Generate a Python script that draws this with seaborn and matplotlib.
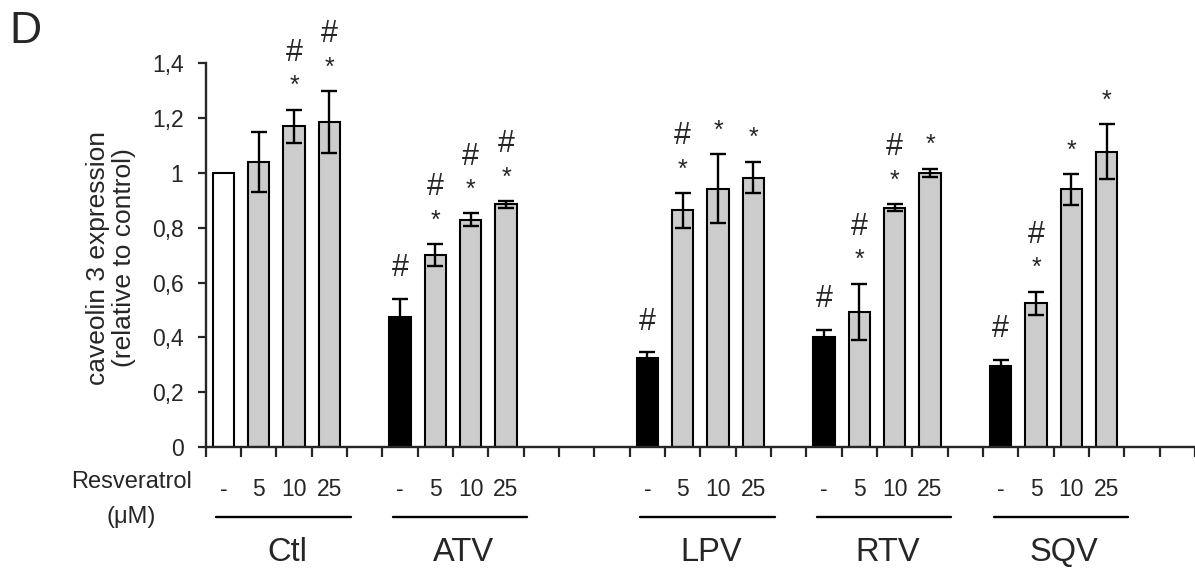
import numpy as np
import pandas as pd
import matplotlib
matplotlib.use('Agg')
import matplotlib.pyplot as plt
import matplotlib.transforms as mtransforms
from matplotlib.ticker import FuncFormatter
import seaborn as sns

# Data (panel D)
groups = ['Ctl', 'ATV', 'LPV', 'RTV', 'SQV']
doses = ['-', '5', '10', '25']

ctl_mean = [1.00, 1.04, 1.17, 1.185]
ctl_err = [0.0, 0.11, 0.06, 0.113]
atv_mean = [0.475, 0.70, 0.83, 0.885]
atv_err = [0.065, 0.04, 0.022, 0.012]
lpv_mean = [0.325, 0.863, 0.943, 0.983]
lpv_err = [0.02, 0.063, 0.125, 0.058]
rtv_mean = [0.402, 0.492, 0.873, 1.00]
rtv_err = [0.025, 0.103, 0.013, 0.015]
sqv_mean = [0.296, 0.524, 0.94, 1.077]
sqv_err = [0.023, 0.042, 0.056, 0.101]

# significance marks, bottom to top
ctl_marks = ['', '', '*#', '*#']
atv_marks = ['#', '*#', '*#', '*#']
lpv_marks = ['#', '*#', '*', '*']
rtv_marks = ['#', '*#', '*#', '*']
sqv_marks = ['#', '*#', '*', '*']

means = [ctl_mean, atv_mean, lpv_mean, rtv_mean, sqv_mean]
errs = [ctl_err, atv_err, lpv_err, rtv_err, sqv_err]
marks = [ctl_marks, atv_marks, lpv_marks, rtv_marks, sqv_marks]

# empty category slots after each group (layout of the original axis)
gap_after = [1, 3, 1, 1, 2]

# build category order with empty slots
order = []
rows = []
for g, grp in enumerate(groups):
    for d, dose in enumerate(doses):
        slot = f'{grp} {dose}'
        order.append(slot)
        if d == 0:
            col = 'white' if grp == 'Ctl' else 'black'
        else:
            col = '#cccccc'
        rows.append({'slot': slot, 'group': grp, 'dose': dose,
                     'value': means[g][d], 'err': errs[g][d],
                     'marks': marks[g][d], 'color': col})
    for k in range(gap_after[g]):
        order.append(' ' * (len(order) + 1))
df = pd.DataFrame(rows)
df['pos'] = [order.index(s) for s in df['slot']]
palette = dict(zip(df['slot'], df['color']))

sns.set_style('ticks')
plt.rcParams['font.family'] = ['Liberation Sans', 'DejaVu Sans']

fig = plt.figure(figsize=(11.95, 5.69), dpi=100)
ax = fig.add_axes([0.1721, 0.2144, 0.8279, 0.6744])

sns.barplot(data=df, x='slot', y='value', hue='slot', order=order,
            palette=palette, width=0.6, edgecolor='black', linewidth=1.5,
            errorbar=None, legend=False, ax=ax, zorder=2)

has_err = df['err'] > 0
ax.errorbar(df.loc[has_err, 'pos'], df.loc[has_err, 'value'],
            yerr=df.loc[has_err, 'err'], fmt='none', ecolor='black',
            elinewidth=1.7, capsize=5.5, capthick=1.7, zorder=3)

# significance marks above error bars
for _, r in df.iterrows():
    top = r['value'] + r['err']
    for j, m in enumerate(r['marks']):
        if m == '*':
            ax.annotate('*', xy=(r['pos'], top), xytext=(0, 17 + 19 * j),
                        textcoords='offset points', ha='center', va='center',
                        fontsize=18, annotation_clip=False)
        else:
            ax.annotate('#', xy=(r['pos'], top), xytext=(0, 22 + 19 * j),
                        textcoords='offset points', ha='center', va='center',
                        fontsize=22, annotation_clip=False)

ax.set_xlim(-0.5, len(order) - 0.5)
ax.set_ylim(0, 1.4)
ax.set_yticks(np.arange(0, 1.41, 0.2))
ax.yaxis.set_major_formatter(FuncFormatter(lambda v, p: f'{round(v, 1):g}'.replace('.', ',')))
ax.set_xticks(np.arange(len(order) + 1) - 0.5)
ax.set_xticklabels([])
ax.set_xlabel('')
ax.set_ylabel('')
ax.tick_params(axis='y', direction='out', length=6, width=1.6, labelsize=16.5, pad=10)
ax.tick_params(axis='x', direction='out', length=7, width=1.6)
for s in ['top', 'right']:
    ax.spines[s].set_visible(False)
for s in ['left', 'bottom']:
    ax.spines[s].set_linewidth(1.7)

# dose labels, group lines and group names under the axis
trans = mtransforms.blended_transform_factory(ax.transData, ax.transAxes)
for g, grp in enumerate(groups):
    sub = df[df['group'] == grp]
    for _, r in sub.iterrows():
        ax.text(r['pos'], -0.112, r['dose'], transform=trans, ha='center',
                va='center', fontsize=16.5)
    x0, x1 = sub['pos'].min() - 0.2, sub['pos'].max() + 0.6
    ax.plot([x0, x1], [-0.1824, -0.1824], transform=trans, color='black',
            lw=1.7, clip_on=False)
    ax.text((x0 + x1) / 2 + 0.1, -0.276, grp, transform=trans, ha='center',
            va='center', fontsize=23.5)

fig.text(0.110, 0.1534, 'Resveratrol', ha='center', va='center', fontsize=17)
fig.text(0.110, 0.0919, '(\u03bcM)', ha='center', va='center', fontsize=17)
fig.text(0.093, 0.547, 'caveolin 3 expression\n(relative to control)',
         rotation=90, ha='center', va='center', fontsize=19,
         multialignment='center', linespacing=1.1)
fig.text(0.021, 0.944, 'D', ha='center', va='center', fontsize=32)

fig.savefig('out.png', dpi=100)
